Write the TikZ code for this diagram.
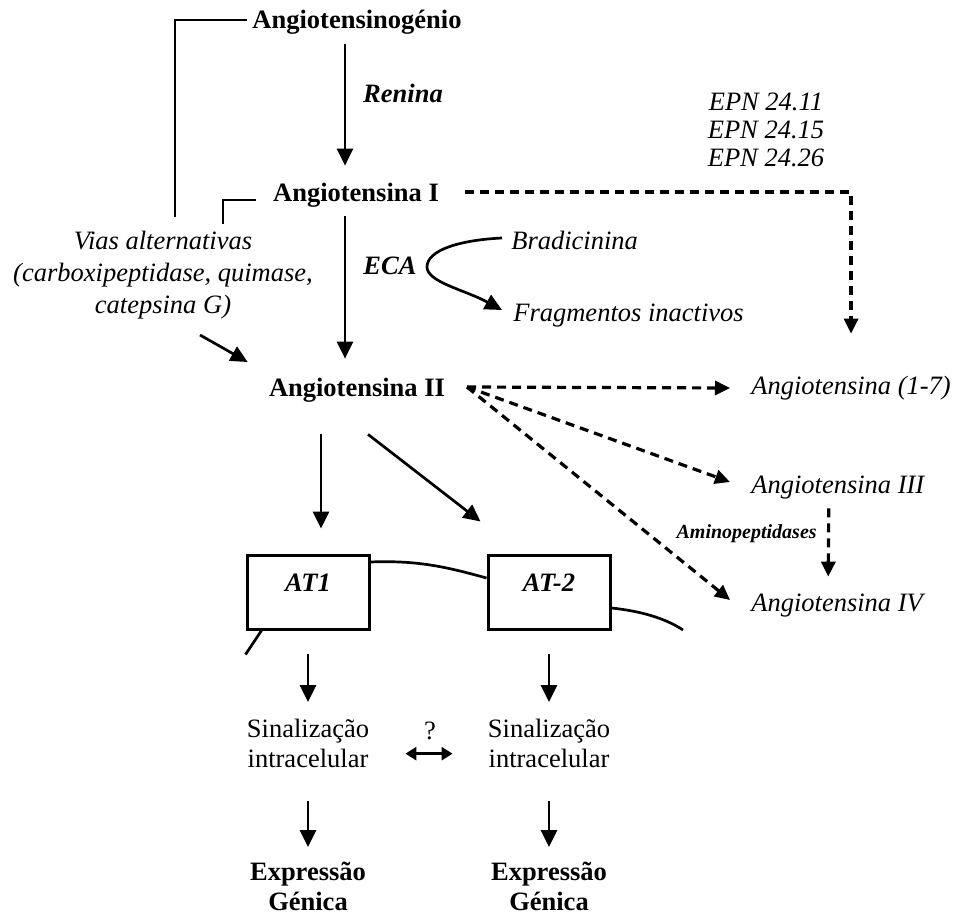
\documentclass[tikz,border=0pt]{standalone}
\usepackage{fontspec}
\setmainfont{Liberation Serif}
\usepackage{tikz}
\usetikzlibrary{positioning, arrows.meta}

\newcommand{\bigfont}{\fontsize{26.5}{32}\selectfont}
\newcommand{\twofont}{\fontsize{26.5}{30}\selectfont}

\begin{document}
\begin{tikzpicture}[x=1pt, y=-1pt, line width=2.7pt, font=\bigfont,
    tx/.style={inner sep=0pt, text height=18pt, text depth=6pt},
    ml/.style={inner sep=0pt, align=center},
    subst/.style={tx, font=\bigfont\bfseries},
    enz/.style={tx, font=\bigfont\bfseries\itshape},
    prod/.style={tx, font=\bigfont\itshape},
    rec/.style={draw, line width=3pt, minimum width=122pt, minimum height=74pt, inner sep=0pt, text height=18pt, text depth=20pt, font=\bigfont\bfseries\itshape},
    arr/.style={-{Triangle[length=17pt, width=16pt]}},
    darr/.style={dash pattern=on 9pt off 6pt, line width=3.2pt, -{Triangle[length=15pt, width=14pt]}}]
    \fill[white] (0,0) rectangle (954,915);
    % cascade
    \node[subst] (ago) at (357,23) {Angiotensinogénio};
    \node[enz] (ren) at (403,97) {Renina};
    \node[subst] (a1) at (356,195) {Angiotensina I};
    \node[ml, font=\bigfont\itshape, anchor=north] (vias) at (163,230) {Vias alternativas\\(carboxipeptidase, quimase,\\catepsina G)};
    \node[enz] (eca) at (390,268) {ECA};
    \node[prod, anchor=west] (brad) at (510,243) {Bradicinina};
    \node[prod, anchor=west] (frag) at (512,315) {Fragmentos inactivos};
    \node[ml, font=\fontsize{26.5}{28}\selectfont\itshape, anchor=north] (epn) at (766,92) {EPN 24.11\\EPN 24.15\\EPN 24.26};
    \node[subst] (a2) at (357,390) {Angiotensina II};
    \node[prod, anchor=west] (a17) at (750,388) {Angiotensina (1-7)};
    \node[prod, anchor=west] (a3) at (750,487) {Angiotensina III};
    \node[prod, anchor=west] (a4) at (750,605) {Angiotensina IV};
    \node[tx, font=\fontsize{20}{24}\selectfont\bfseries\itshape, anchor=east] (amp) at (818,532) {Aminopeptidases};
    % receptors
    \node[rec] (at1) at (308,592) {AT1};
    \node[rec] (at2) at (549,592) {AT-2};
    \node[ml, font=\twofont, anchor=north] (sig1) at (308,718) {Sinalização\\intracelular};
    \node[ml, font=\twofont, anchor=north] (sig2) at (549,718) {Sinalização\\intracelular};
    \node[tx] (q) at (430,733) {?};
    \node[ml, font=\twofont\bfseries, anchor=north] (exp1) at (308,861) {Expressão\\Génica};
    \node[ml, font=\twofont\bfseries, anchor=north] (exp2) at (549,861) {Expressão\\Génica};

    \coordinate (vt) at (175,217);
    \coordinate (vt2) at (223,224);
    \coordinate (v0) at (200,335);
    \coordinate (fan) at (467,387);
    \coordinate (mem1) at (683,630);

    \draw ([xshift=-4, yshift=3]ago.west) -| (vt);
    \draw ([xshift=-16, yshift=-5]a1.west) -| (vt2);
    \draw[arr, shorten <=8pt, shorten >=16pt] ([xshift=-12]ago.south) -- ([xshift=-11]a1.north);
    \draw[arr, shorten <=8pt, shorten >=18pt] ([xshift=-11]a1.south) -- ([xshift=-12]a2.north);
    \draw[arr] ([xshift=-8, yshift=5]brad.west) .. controls (460,240) and (427,250) .. (427,267) .. controls (427,282) and (465,290) .. ([xshift=-10, yshift=5]frag.west);
    \draw[darr, shorten >=41pt] ([xshift=25, yshift=3]a1.east) -| (a17.north);
    \draw[arr] (v0) -- ([xshift=-20, yshift=28]a2.west);
    \draw[darr] (fan) -- ([xshift=-20]a17.west);
    \draw[darr] (fan) -- ([xshift=-20, yshift=5]a3.west);
    \draw[darr] (fan) -- ([xshift=-20, yshift=5]a4.west);
    \draw[darr, shorten <=8pt, shorten >=15pt] ([xshift=-9]a3.south) -- ([xshift=-9]a4.north);
    \draw[arr, shorten <=31pt, shorten >=25pt] ([xshift=-36]a2.south) -- ([xshift=13]at1.north);
    \draw[arr] ([xshift=11, yshift=-31]a2.south) -- ([xshift=-6, yshift=32]at2.north west);
    % membrane
    \draw ([xshift=16]at1.south west) -- ([yshift=-24]at1.south west);
    \draw ([yshift=30]at1.east) .. controls (420,560) and (450,568) .. ([yshift=14]at2.west);
    \draw ([yshift=-16]at2.east) .. controls (640,611) and (665,618) .. (mem1);
    % signalling
    \draw[arr, shorten <=23pt, shorten >=16pt] (at1.south) -- (sig1.north);
    \draw[arr, shorten <=23pt, shorten >=16pt] (at2.south) -- (sig2.north);
    \draw[arr, shorten <=32pt, shorten >=14pt] (sig1.south) -- (exp1.north);
    \draw[arr, shorten <=32pt, shorten >=14pt] (sig2.south) -- (exp2.north);
    \draw[{Triangle[length=11pt, width=13pt]}-{Triangle[length=11pt, width=13pt]}] ([xshift=35, yshift=-10]sig1.east) -- ([xshift=-34, yshift=-10]sig2.west);
\end{tikzpicture}
\end{document}
